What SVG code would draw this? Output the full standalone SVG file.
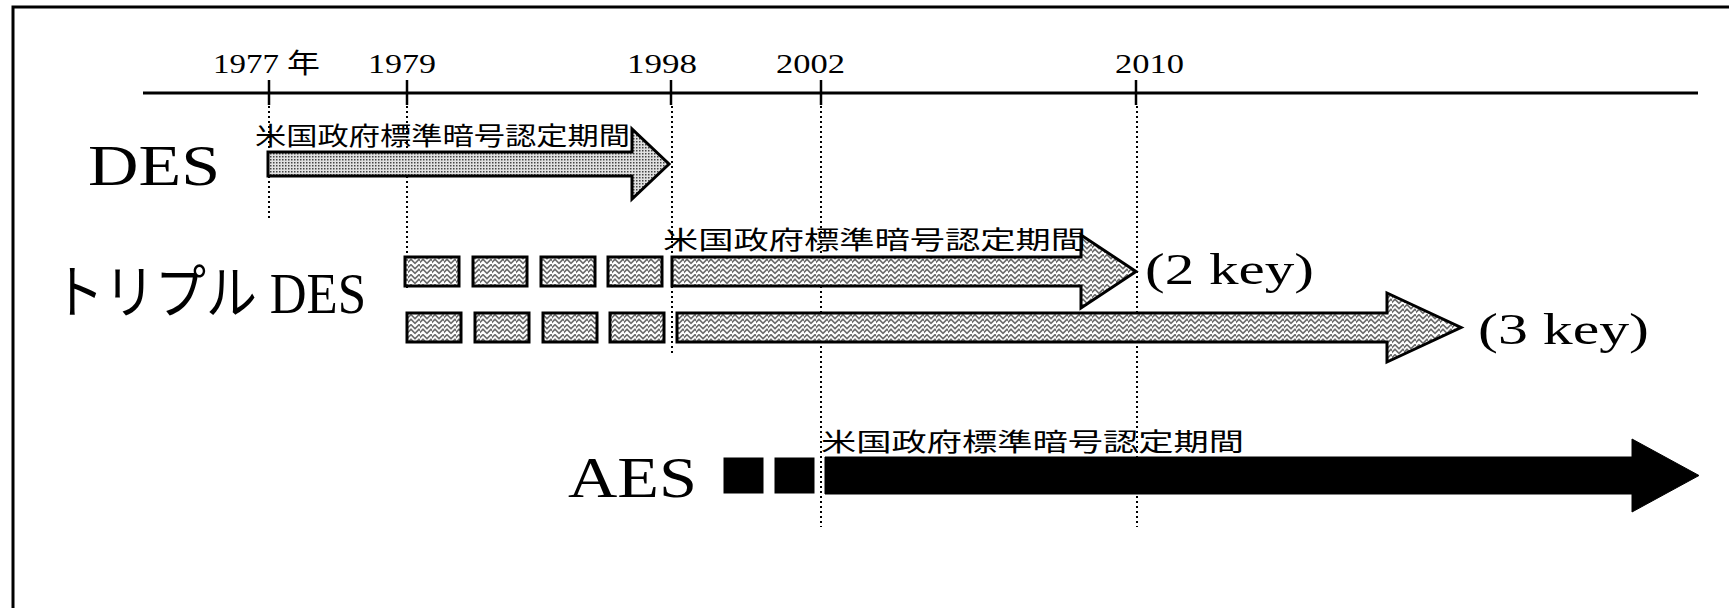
<svg xmlns="http://www.w3.org/2000/svg" width="1729" height="608" viewBox="0 0 1729 608">
<style>
.frame{fill:none;stroke:#000;stroke-width:3}
.axis{stroke:#000;stroke-width:3;fill:none}
.tick{stroke:#000;stroke-width:2.5}
.dot{stroke:#000;stroke-width:2;stroke-dasharray:2 3;fill:none}
.yr{font-family:"Liberation Serif","Noto Sans CJK JP",serif;font-size:27px;fill:#000}
.big{font-family:"Liberation Serif","Noto Sans CJK JP",serif;font-size:58px;fill:#000}
.key{font-family:"Liberation Serif",serif;font-size:44px;fill:#000}
.lbl{font-family:"Noto Sans CJK JP",sans-serif;font-size:25px;fill:#000}
.desA{fill:url(#stip);stroke:#000;stroke-width:3;stroke-linejoin:miter}
.tri{fill:url(#weave);stroke:#000;stroke-width:3}
.aes{fill:#000;stroke:#000;stroke-width:1}
</style>
<defs>
<pattern id="stip" width="3" height="3" patternUnits="userSpaceOnUse">
<rect width="3" height="3" fill="#e0e0e0"/>
<rect width="1.5" height="1.5" fill="#444"/>
</pattern>
<pattern id="weave" width="12" height="10" patternUnits="userSpaceOnUse">
<rect width="12" height="10" fill="#6a6a6a"/>
<path d="M-1,6 L3,2 L7,6 L11,2 L15,6" stroke="#fff" stroke-width="2.2" fill="none"/>
<path d="M-1,11 L3,7 L7,11 L11,7 L15,11" stroke="#fff" stroke-width="1.6" fill="none"/>
<path d="M-1,1 L3,-3 L7,1 L11,-3 L15,1" stroke="#fff" stroke-width="1.6" fill="none"/>
</pattern>
</defs>
<rect class="frame" x="13" y="7" width="1760" height="640"/>
<g id="axis">
<line class="axis" x1="143" y1="93" x2="1698" y2="93"/>
<line class="tick" x1="269" y1="80" x2="269" y2="105"/>
<line class="tick" x1="407" y1="80" x2="407" y2="105"/>
<line class="tick" x1="671" y1="80" x2="671" y2="105"/>
<line class="tick" x1="821" y1="80" x2="821" y2="105"/>
<line class="tick" x1="1136" y1="80" x2="1136" y2="105"/>
<text class="yr" x="213" y="73" textLength="107" lengthAdjust="spacingAndGlyphs">1977 年</text>
<text class="yr" x="368" y="73" textLength="68" lengthAdjust="spacingAndGlyphs">1979</text>
<text class="yr" x="627" y="73" textLength="70" lengthAdjust="spacingAndGlyphs">1998</text>
<text class="yr" x="776" y="73" textLength="69" lengthAdjust="spacingAndGlyphs">2002</text>
<text class="yr" x="1115" y="73" textLength="69" lengthAdjust="spacingAndGlyphs">2010</text>
</g>
<g id="connectors">
<line class="dot" x1="269" y1="106" x2="269" y2="220"/>
<line class="dot" x1="407" y1="106" x2="407" y2="290"/>
<line class="dot" x1="672" y1="106" x2="672" y2="353"/>
<line class="dot" x1="821" y1="106" x2="821" y2="527"/>
<line class="dot" x1="1137" y1="106" x2="1137" y2="527"/>
</g>
<g id="des">
<text class="big" x="88" y="185" textLength="132" lengthAdjust="spacingAndGlyphs">DES</text>
<path class="desA" d="M268,152 H632 V129 L669,164 L632,199 V176 H268 Z"/>
<text class="lbl" x="255" y="145" textLength="375" lengthAdjust="spacingAndGlyphs">米国政府標準暗号認定期間</text>
</g>
<g id="tdes">
<text class="big" x="53" y="313" textLength="313" lengthAdjust="spacingAndGlyphs">トリプル DES</text>
<rect class="tri" x="405" y="257" width="54" height="29"/>
<rect class="tri" x="473" y="257" width="54" height="29"/>
<rect class="tri" x="541" y="257" width="54" height="29"/>
<rect class="tri" x="608" y="257" width="54" height="29"/>
<path class="tri" d="M672,257 H1081 V235 L1136,271.5 L1081,308 V286 H672 Z"/>
<text class="lbl" x="663" y="249" textLength="423" lengthAdjust="spacingAndGlyphs">米国政府標準暗号認定期間</text>
<text class="key" x="1145" y="284" textLength="169" lengthAdjust="spacingAndGlyphs">(2 key)</text>
<rect class="tri" x="407" y="313" width="54" height="29"/>
<rect class="tri" x="475" y="313" width="54" height="29"/>
<rect class="tri" x="543" y="313" width="54" height="29"/>
<rect class="tri" x="610" y="313" width="54" height="29"/>
<path class="tri" d="M677,313 H1387 V293 L1461,327.5 L1387,362 V342 H677 Z"/>
<text class="key" x="1478" y="344" textLength="171" lengthAdjust="spacingAndGlyphs">(3 key)</text>
</g>
<g id="aes">
<text class="big" x="568" y="497" textLength="129" lengthAdjust="spacingAndGlyphs">AES</text>
<rect class="aes" x="724" y="458" width="39" height="35"/>
<rect class="aes" x="775" y="458" width="39" height="35"/>
<path class="aes" d="M825,457 H1632 V439 L1699,475.5 L1632,512 V494 H825 Z"/>
<text class="lbl" x="821" y="451" textLength="423" lengthAdjust="spacingAndGlyphs">米国政府標準暗号認定期間</text>
</g>
</svg>
